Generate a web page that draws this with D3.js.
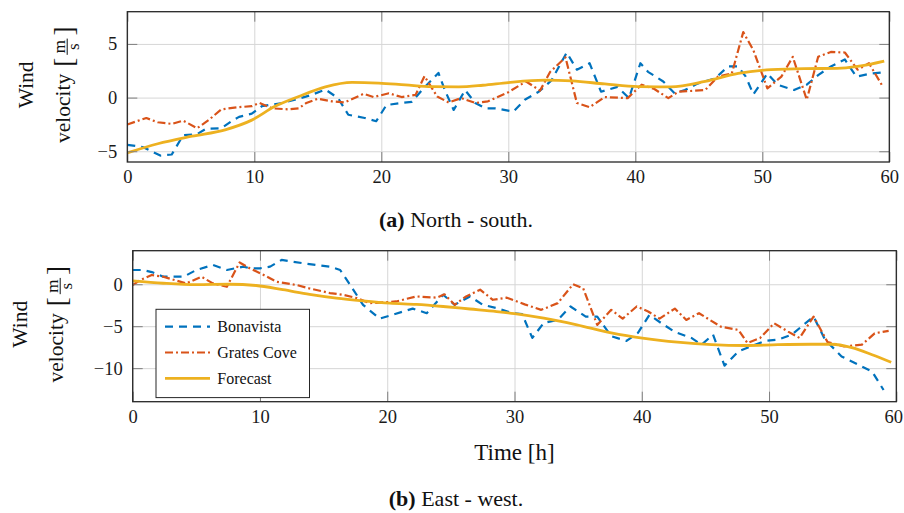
<!DOCTYPE html>
<html>
<head>
<meta charset="utf-8">
<script src="https://cdn.jsdelivr.net/npm/d3@7"></script>
<style>
  html, body { margin: 0; padding: 0; background: #ffffff; }
  svg { display: block; }
  text { font-family: "Liberation Serif", "Times New Roman", serif; }
</style>
</head>
<body>
<svg id="chart" width="904" height="513"></svg>
<script>
// ---- data -------------------------------------------------------------
const hourTicks = [0, 10, 20, 30, 40, 50, 60];
const nsTicks = [-5, 0, 5];
const ewTicks = [-10, -5, 0];
const seriesNames = ["Bonavista", "Grates Cove", "Forecast"];

// (a) North - south component
const nsBonavistaT = [0, 1.2, 2.6, 3.5, 4.4, 5.5, 6.2, 7.4, 8.2, 8.8, 9.8, 10.6, 12.2, 13.2, 14.5, 15.6, 16.6, 17.4, 18.7, 19.6, 20.4, 21.6, 22.4, 23.2, 24.5, 25.0, 25.7, 26.6, 27.4, 28.2, 29.0, 30.4, 31.3, 32.4, 33.4, 34.6, 35.4, 36.4, 37.3, 38.6, 39.5, 40.4, 41.0, 42.2, 43.1, 43.9, 44.9, 46.3, 47.3, 48.1, 48.7, 49.3, 50.4, 51.2, 52.5, 53.5, 54.4, 55.4, 56.5, 57.4, 58.6, 59.5];
const nsBonavistaV = [-4.4, -4.6, -5.4, -5.3, -3.5, -3.4, -2.9, -2.85, -2.2, -1.8, -1.5, -0.8, -0.5, -0.2, 0.25, 0.75, -0.05, -1.6, -1.9, -2.2, -0.7, -0.5, -0.4, 0.7, 2.3, 0.7, -1.15, 0.7, -0.5, -1.0, -1.0, -1.3, -0.2, 0.55, 1.6, 4.2, 2.6, 3.2, 0.55, 1.0, -0.05, 3.2, 2.4, 1.5, 0.4, 0.7, 1.3, 1.8, 2.9, 2.9, 1.95, 0.3, 2.25, 1.2, 0.7, 1.2, 2.1, 2.9, 3.55, 1.95, 2.25, 2.35];
const nsGratesT = [0, 1.5, 2.4, 3.5, 4.4, 5.5, 6.4, 7.4, 8.7, 9.8, 10.4, 11.4, 12.7, 13.5, 14.1, 15.0, 16.1, 17.1, 18.6, 19.4, 20.6, 21.6, 22.7, 23.4, 24.4, 25.3, 26.3, 27.4, 28.4, 30.0, 31.4, 32.5, 33.3, 34.5, 35.4, 36.4, 37.6, 39.4, 40.5, 41.5, 42.6, 43.4, 45.5, 46.5, 47.6, 48.5, 49.3, 50.4, 51.5, 52.4, 53.5, 54.4, 55.4, 56.5, 57.5, 58.4, 59.4];
const nsGratesV = [-2.5, -1.9, -2.3, -2.45, -2.15, -2.85, -2.1, -1.1, -0.9, -0.8, -0.5, -1.0, -1.1, -1.0, -0.5, -0.1, -0.35, -0.45, 0.35, 0.05, 0.4, 0.05, 0.25, 2.0, 0.1, -0.45, -0.05, -0.5, -0.35, 0.5, 1.5, 0.65, 2.4, 3.75, -0.5, -0.9, 0.05, -0.05, 1.2, 0.8, -0.05, 0.55, 0.7, 1.95, 2.25, 6.1, 4.4, 0.85, 1.95, 3.8, -0.2, 3.8, 4.25, 4.2, 2.6, 3.2, 1.2];
const nsForecastT = [0, 2.4, 5.1, 7.7, 9.8, 11.6, 13.5, 15.6, 17.7, 19.8, 21.9, 24.0, 26.1, 28.0, 30.0, 32.9, 35.0, 37.6, 40.2, 42.8, 45.5, 48.1, 50.7, 53.3, 55.9, 57.5, 59.6];
const nsForecastV = [-5.15, -4.3, -3.6, -3.0, -2.1, -0.84, 0.1, 1.0, 1.42, 1.35, 1.18, 1.02, 1.0, 1.15, 1.4, 1.62, 1.55, 1.27, 1.02, 1.0, 1.5, 2.25, 2.6, 2.7, 2.72, 2.9, 3.4];

// (b) East - west component
const ewBonavistaT = [0, 0.8, 1.5, 2.4, 4.0, 5.0, 6.3, 7.4, 8.7, 9.2, 10.0, 10.8, 11.7, 13.4, 15.5, 16.3, 17.1, 18.1, 19.4, 20.5, 22.0, 23.1, 24.4, 25.3, 26.5, 27.5, 28.6, 29.9, 30.6, 31.4, 32.3, 33.4, 34.4, 35.6, 36.5, 37.6, 38.8, 39.7, 40.6, 41.5, 42.6, 43.9, 44.7, 45.6, 46.5, 47.6, 48.6, 49.7, 50.7, 51.8, 52.7, 53.5, 54.4, 55.7, 57.3, 58.1, 59.0];
const ewBonavistaV = [1.7, 1.7, 1.45, 0.9, 0.9, 1.7, 2.3, 1.7, 2.1, 1.9, 1.9, 2.1, 2.9, 2.5, 2.1, 1.7, -0.1, -2.45, -4.1, -3.6, -2.9, -3.45, -1.25, -2.45, -1.45, -2.45, -2.85, -3.45, -3.55, -6.4, -4.6, -4.25, -2.65, -3.85, -3.85, -6.2, -6.75, -5.8, -3.65, -4.6, -5.7, -6.4, -7.2, -6.0, -9.7, -8.0, -7.4, -6.75, -6.6, -6.0, -4.85, -3.85, -6.6, -8.6, -9.8, -10.4, -12.6];
const ewGratesT = [0, 0.6, 1.5, 2.4, 4.2, 5.4, 6.3, 7.4, 8.4, 9.2, 10.3, 11.3, 12.9, 13.9, 15.5, 16.5, 17.6, 18.6, 19.7, 20.7, 22.3, 23.9, 24.5, 25.3, 26.2, 27.3, 28.3, 29.4, 30.8, 32.1, 33.4, 34.6, 35.4, 36.5, 37.6, 38.5, 39.6, 40.5, 41.4, 42.6, 43.5, 44.5, 46.2, 47.6, 48.3, 49.3, 50.4, 51.5, 52.4, 53.5, 54.6, 55.9, 57.3, 58.3, 59.4];
const ewGratesV = [-0.1, 0.5, 1.1, 0.9, 0.1, 0.9, 0.1, -0.3, 2.6, 1.9, 1.1, 0.3, -0.1, -0.5, -1.05, -1.25, -1.65, -2.25, -2.15, -2.05, -1.45, -1.6, -1.2, -2.45, -1.45, -0.65, -1.85, -1.6, -2.4, -3.05, -2.25, 0.0, -0.5, -4.85, -3.05, -4.1, -2.65, -3.25, -4.1, -2.9, -4.25, -3.45, -5.05, -5.45, -7.0, -6.4, -4.65, -5.65, -6.4, -3.85, -6.9, -7.4, -7.2, -5.85, -5.55];
const ewForecastT = [0, 2.4, 5.0, 7.6, 9.7, 11.8, 13.9, 16.0, 18.1, 20.2, 22.3, 24.4, 26.5, 28.6, 30.0, 32.3, 34.9, 37.6, 40.2, 42.8, 45.5, 48.1, 50.7, 53.3, 54.9, 56.5, 58.1, 59.6];
const ewForecastV = [0.4, 0.12, -0.05, 0.0, -0.15, -0.65, -1.2, -1.65, -1.98, -2.25, -2.4, -2.65, -2.95, -3.25, -3.5, -4.05, -4.85, -5.8, -6.45, -6.9, -7.2, -7.3, -7.2, -7.15, -7.15, -7.55, -8.4, -9.3];

// ---- styling ---------------------------------------------------------
const colors = ["#0072bd", "#d95319", "#edb120"];
const dashes = ["8,6", "8,3,2,3", null];
const widths = [2.2, 2.2, 2.8];
const W = 904;

const svg = d3.select("#chart");

const zip = (ts, vs) => ts.map((t, i) => [t, vs[i]]);

function drawPanel(cfg) {
  const w = cfg.right - cfg.left, h = cfg.bottom - cfg.top;
  const g = svg.append("g").attr("transform", `translate(${cfg.left},${cfg.top})`);
  const x = d3.scaleLinear().domain([0, 60]).range([0, w]);
  const y = d3.scaleLinear().domain(cfg.yDomain).range([h, 0]);

  // grid
  const gridStyle = sel => {
    sel.select(".domain").remove();
    sel.selectAll("line").attr("stroke", "#d6d6d6").attr("stroke-width", 1);
  };
  g.append("g").attr("transform", `translate(0,${h})`)
    .call(d3.axisBottom(x).tickValues(hourTicks).tickSize(-h).tickFormat(""))
    .call(gridStyle);
  g.append("g")
    .call(d3.axisLeft(y).tickValues(cfg.yTicks).tickSize(-w).tickFormat(""))
    .call(gridStyle);

  // series
  const line = d3.line().x(d => x(d[0])).y(d => y(d[1]));
  const smooth = d3.line().x(d => x(d[0])).y(d => y(d[1])).curve(d3.curveMonotoneX);
  cfg.series.forEach((s, i) => {
    g.append("path")
      .datum(zip(s[0], s[1]))
      .attr("fill", "none")
      .attr("stroke", colors[i])
      .attr("stroke-width", widths[i])
      .attr("stroke-dasharray", dashes[i])
      .attr("stroke-linejoin", "round")
      .attr("d", i === 2 ? smooth : line);
  });

  // inward tick marks on all four sides, labels on bottom and left
  const tickStyle = sel => {
    sel.select(".domain").remove();
    sel.selectAll("line").attr("stroke", "#7f7f7f").attr("stroke-width", 1);
    sel.selectAll("text").attr("fill", "#1a1a1a").style("font-size", "18.5px")
      .style("font-family", '"Liberation Serif", serif');
  };
  const xAxis = g.append("g").attr("transform", `translate(0,${h})`)
    .call(d3.axisBottom(x).tickValues(hourTicks).tickSize(-10).tickPadding(8))
    .call(tickStyle);
  // keep the last hour label inside the page
  xAxis.selectAll(".tick text").each(function () {
    const bb = this.getBBox();
    const m = this.parentNode.transform.baseVal.consolidate().matrix;
    const overflow = cfg.left + m.e + bb.x + bb.width - (W - 1);
    if (overflow > 0) d3.select(this).attr("dx", -overflow);
  });
  g.append("g")
    .call(d3.axisTop(x).tickValues(hourTicks).tickSize(-10).tickFormat(""))
    .call(tickStyle);
  g.append("g")
    .call(d3.axisLeft(y).tickValues(cfg.yTicks).tickSize(-10).tickPadding(10))
    .call(tickStyle);
  g.append("g").attr("transform", `translate(${w},0)`)
    .call(d3.axisRight(y).tickValues(cfg.yTicks).tickSize(-10).tickFormat(""))
    .call(tickStyle);

  // frame
  g.append("rect").attr("width", w).attr("height", h)
    .attr("fill", "none").attr("stroke", "#262626").attr("stroke-width", 1.3);

  // y label: "Wind" / "velocity [m/s]"
  const cy = cfg.top + h / 2 - 2;
  svg.append("text")
    .attr("transform", `translate(${cfg.windX},${cy}) rotate(-90)`)
    .attr("text-anchor", "middle")
    .style("font-size", "21.5px").attr("fill", "#111")
    .text("Wind");

  const lab = svg.append("g").attr("transform", `translate(${cfg.velX},${cy}) rotate(-90)`);
  const vel = lab.append("text").style("font-size", "21.5px").attr("fill", "#111").text("velocity");
  const velW = vel.node().getComputedTextLength();
  const lb = lab.append("text").style("font-size", "27px").attr("fill", "#111").text("[");
  const lbW = lb.node().getComputedTextLength();
  const num = lab.append("text").style("font-size", "17px").attr("fill", "#111")
    .attr("text-anchor", "middle").text("m");
  const numW = num.node().getComputedTextLength();
  const den = lab.append("text").style("font-size", "17px").attr("fill", "#111")
    .attr("text-anchor", "middle").text("s");
  const rb = lab.append("text").style("font-size", "27px").attr("fill", "#111").text("]");
  const rbW = rb.node().getComputedTextLength();
  const gap = 7, fracW = numW + 3;
  const total = velW + gap + lbW + 3 + fracW + 3 + rbW;
  let cx = -total / 2;
  vel.attr("x", cx);
  cx += velW + gap;
  lb.attr("x", cx).attr("y", 3);
  cx += lbW + 3;
  num.attr("x", cx + fracW / 2).attr("y", -5.5);
  den.attr("x", cx + fracW / 2).attr("y", 8.5);
  lab.append("line").attr("x1", cx).attr("x2", cx + fracW)
    .attr("y1", -2.8).attr("y2", -2.8).attr("stroke", "#111").attr("stroke-width", 1);
  cx += fracW + 3;
  rb.attr("x", cx).attr("y", 3);

  return { g, x, y, w, h };
}

// (a) North - south
drawPanel({
  left: 127.3, right: 889.3, top: 11.7, bottom: 162,
  yDomain: [-6, 8], yTicks: nsTicks,
  windX: 33, velX: 70,
  series: [[nsBonavistaT, nsBonavistaV], [nsGratesT, nsGratesV], [nsForecastT, nsForecastV]]
});

// (b) East - west
const pb = drawPanel({
  left: 132.7, right: 896.3, top: 250.7, bottom: 401.7,
  yDomain: [-14, 4], yTicks: ewTicks,
  windX: 27, velX: 63,
  series: [[ewBonavistaT, ewBonavistaV], [ewGratesT, ewGratesV], [ewForecastT, ewForecastV]]
});

// x-axis title of the lower panel
svg.append("text")
  .attr("x", 132.7 + pb.w / 2).attr("y", 460)
  .attr("text-anchor", "middle")
  .style("font-size", "23px").attr("fill", "#111")
  .text("Time [h]");

// legend
const leg = svg.append("g").attr("transform", "translate(156,309.3)");
leg.append("rect").attr("width", 153.5).attr("height", 88.3)
  .attr("fill", "#fff").attr("stroke", "#262626").attr("stroke-width", 1);
seriesNames.forEach((name, i) => {
  const yy = 17.4 + i * 25.8;
  leg.append("line").attr("x1", 9).attr("x2", 54).attr("y1", yy).attr("y2", yy)
    .attr("stroke", colors[i]).attr("stroke-width", widths[i])
    .attr("stroke-dasharray", dashes[i]);
  leg.append("text").attr("x", 61.3).attr("y", yy + 5.5)
    .style("font-size", "16px").attr("fill", "#111").text(name);
});

// sub-captions
function caption(tag, text, yPos) {
  const t = svg.append("text").attr("x", 456).attr("y", yPos)
    .attr("text-anchor", "middle").style("font-size", "22px").attr("fill", "#111");
  t.append("tspan").style("font-weight", "bold").text(tag);
  t.append("tspan").text(" " + text);
}
caption("(a)", "North - south.", 227);
caption("(b)", "East - west.", 506);
</script>
</body>
</html>
